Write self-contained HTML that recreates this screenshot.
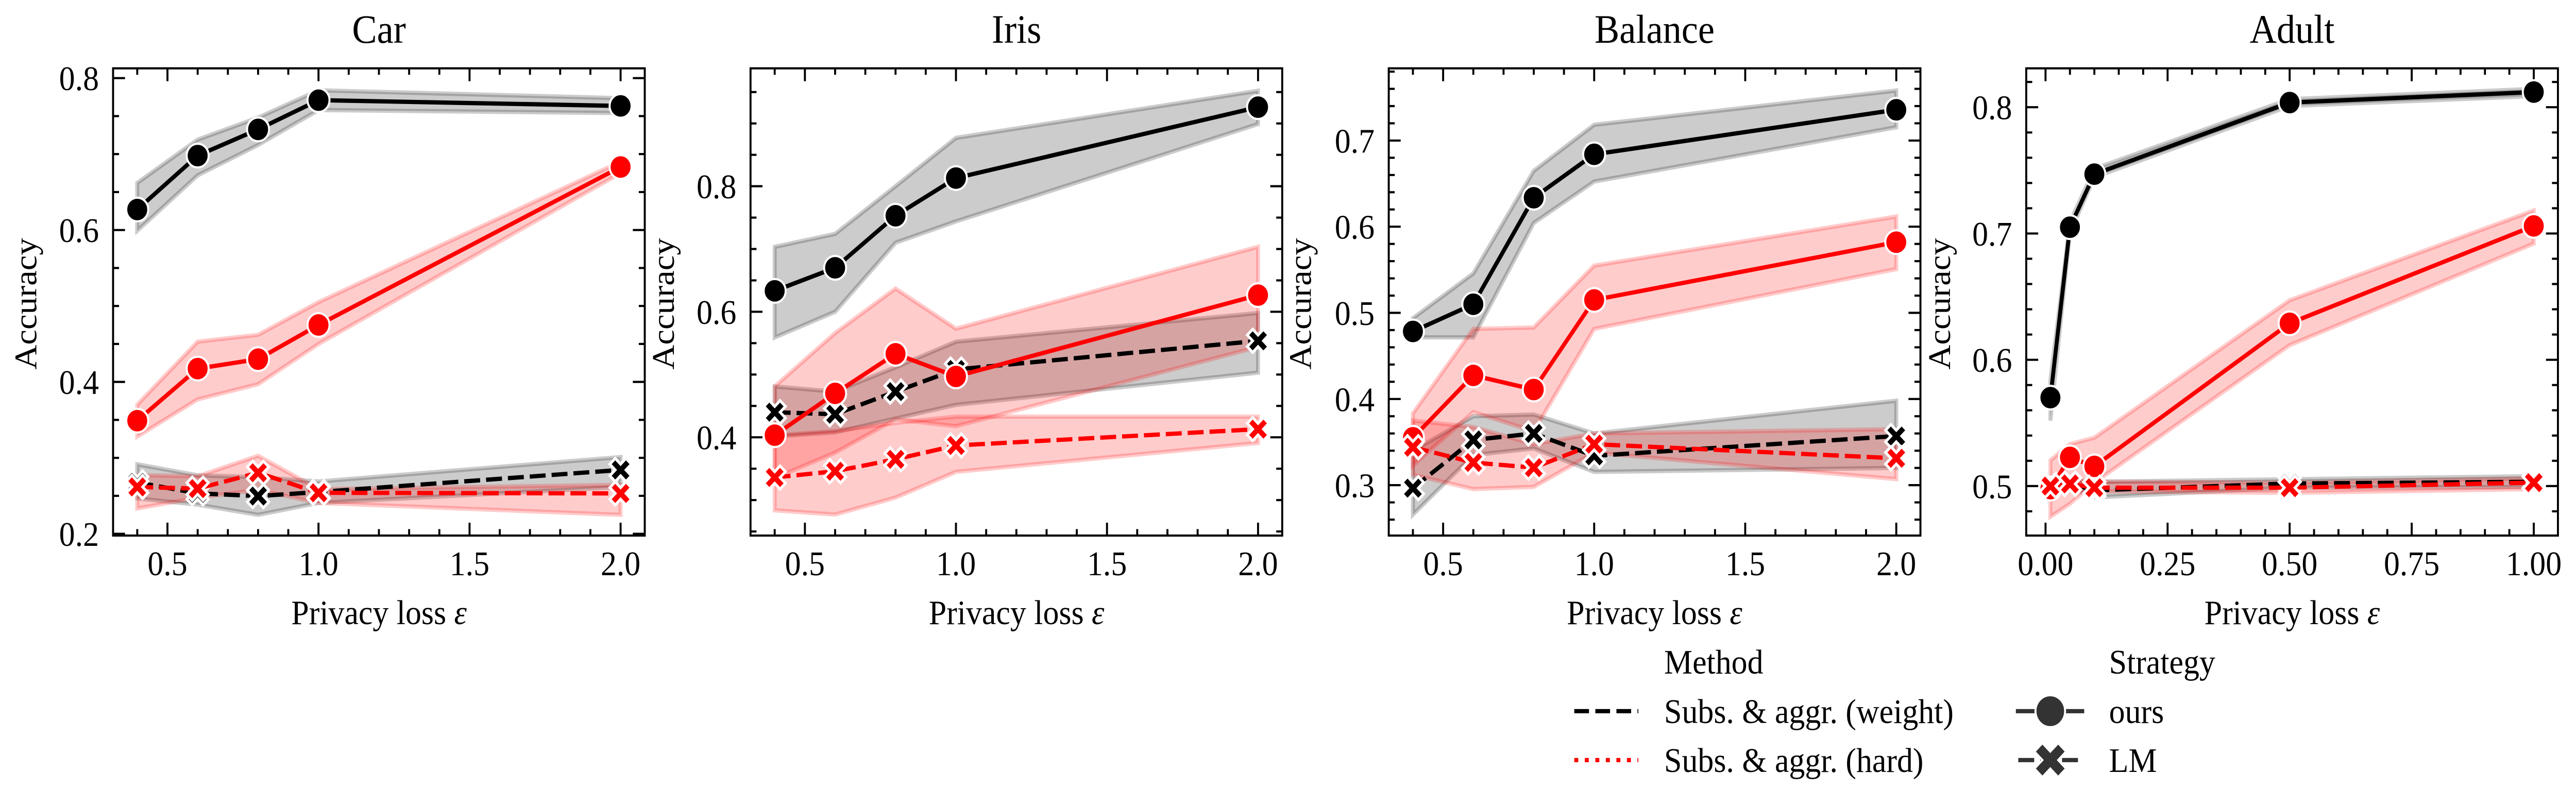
<!DOCTYPE html>
<html lang="en">
<head>
<meta charset="utf-8">
<title>Accuracy vs privacy loss</title>
<style>
html,body{margin:0;padding:0;background:#fff;width:100%;height:100%;overflow:hidden;}
svg{display:block;width:100vw;height:100vh;}
text{font-family:"Liberation Serif","DejaVu Serif",serif;fill:#000;}
</style>
</head>
<body>
<svg id="chart" xmlns="http://www.w3.org/2000/svg" viewBox="0 0 5390 1571" preserveAspectRatio="none">
<rect x="0" y="0" width="5390" height="1571" fill="#fff"/>
<g id="panels"></g>

<text x="793" y="83" font-size="78" text-anchor="middle">Car</text>
<text x="2127" y="83" font-size="78" text-anchor="middle">Iris</text>
<text x="3462" y="83" font-size="78" text-anchor="middle">Balance</text>
<text x="4796" y="83" font-size="78" text-anchor="middle">Adult</text>

<text x="793" y="1212" font-size="66.7" text-anchor="middle">Privacy loss <tspan font-style="italic">ε</tspan></text>
<text x="2127" y="1212" font-size="66.7" text-anchor="middle">Privacy loss <tspan font-style="italic">ε</tspan></text>
<text x="3462" y="1212" font-size="66.7" text-anchor="middle">Privacy loss <tspan font-style="italic">ε</tspan></text>
<text x="4796" y="1212" font-size="66.7" text-anchor="middle">Privacy loss <tspan font-style="italic">ε</tspan></text>

<text font-size="66.7" text-anchor="middle" transform="translate(76 590) rotate(-90)">Accuracy</text>
<text font-size="66.7" text-anchor="middle" transform="translate(1410 590) rotate(-90)">Accuracy</text>
<text font-size="66.7" text-anchor="middle" transform="translate(2743 590) rotate(-90)">Accuracy</text>
<text font-size="66.7" text-anchor="middle" transform="translate(4080 590) rotate(-90)">Accuracy</text>

<g>
  <text x="3482" y="1308" font-size="66.7">Method</text>
  <g>
    <line x1="3294" y1="1381" x2="3428" y2="1381" stroke="#000" stroke-width="8.33" stroke-dasharray="30.8 13.3"/>
    <text x="3482" y="1404" font-size="66.7">Subs. &amp; aggr. (weight)</text>
  </g>
  <g>
    <line x1="3294" y1="1476" x2="3428" y2="1476" stroke="#f00" stroke-width="8.33" stroke-dasharray="8.33 13.7"/>
    <text x="3482" y="1499" font-size="66.7">Subs. &amp; aggr. (hard)</text>
  </g>
  <text x="4413" y="1308" font-size="66.7">Strategy</text>
  <g>
    <line x1="4218" y1="1381" x2="4361" y2="1381" stroke="#333" stroke-width="8.33"/>
    <circle cx="4290" cy="1381" r="31" fill="#333" stroke="#fff" stroke-width="4.17"/>
    <text x="4413" y="1404" font-size="66.7">ours</text>
  </g>
  <g>
    <line x1="4223" y1="1476" x2="4348" y2="1476" stroke="#333" stroke-width="8.33" stroke-dasharray="33.3 12.5"/>
    <polygon fill="#333" stroke="#fff" stroke-width="4.17" stroke-linejoin="miter" points="4273.5,1443 4290,1459.5 4306.5,1443 4323,1459.5 4306.5,1476 4323,1492.5 4306.5,1509 4290,1492.5 4273.5,1509 4257,1492.5 4273.5,1476 4257,1459.5"/>
    <text x="4413" y="1499" font-size="66.7">LM</text>
  </g>
</g>
</svg>
<script>
/* ---------- data: Car ---------- */
const carEpsilon = [0.4, 0.6, 0.8, 1.0, 2.0];
const carOursWeight = [0.627, 0.698, 0.7325, 0.771, 0.7634];
const carOursWeightLow = [0.599, 0.672, 0.712, 0.758, 0.754];
const carOursWeightHigh = [0.662, 0.719, 0.748, 0.784, 0.7736];
const carLmWeight = [0.2676, 0.2533, 0.2497, 0.255, 0.2841];
const carLmWeightLow = [0.2466, 0.2384, 0.225, 0.2407, 0.2616];
const carLmWeightHigh = [0.2915, 0.277, 0.2746, 0.2689, 0.301];
const carOursHard = [0.349, 0.4175, 0.43, 0.475, 0.683];
const carOursHardLow = [0.328, 0.377, 0.397, 0.45, 0.675];
const carOursHardHigh = [0.37, 0.453, 0.462, 0.505, 0.69];
const carLmHard = [0.2617, 0.2595, 0.2804, 0.254, 0.2532];
const carLmHardLow = [0.2335, 0.2475, 0.258, 0.2407, 0.225];
const carLmHardHigh = [0.2773, 0.2757, 0.3027, 0.2588, 0.2644];
const carXTickLabels = ["0.5", "1.0", "1.5", "2.0"];
const carYTickLabels = ["0.2", "0.4", "0.6", "0.8"];

/* ---------- data: Iris ---------- */
const irisEpsilon = [0.4, 0.6, 0.8, 1.0, 2.0];
const irisOursWeight = [0.6333, 0.67, 0.753, 0.813, 0.926];
const irisOursWeightLow = [0.559, 0.6, 0.71, 0.744, 0.899];
const irisOursWeightHigh = [0.7034, 0.724, 0.8, 0.877, 0.952];
const irisLmWeight = [0.44, 0.4367, 0.4728, 0.508, 0.5537];
const irisLmWeightLow = [0.4014, 0.408, 0.43, 0.4517, 0.503];
const irisLmWeightHigh = [0.481, 0.4728, 0.5116, 0.5524, 0.598];
const irisOursHard = [0.4034, 0.47, 0.533, 0.497, 0.6265];
const irisOursHardLow = [0.335, 0.3755, 0.4286, 0.4177, 0.544];
const irisOursHardHigh = [0.481, 0.566, 0.637, 0.573, 0.7034];
const irisLmHard = [0.336, 0.346, 0.365, 0.387, 0.413];
const irisLmHardLow = [0.2837, 0.277, 0.304, 0.345, 0.391];
const irisLmHardHigh = [0.403, 0.41, 0.423, 0.433, 0.433];
const irisXTickLabels = ["0.5", "1.0", "1.5", "2.0"];
const irisYTickLabels = ["0.4", "0.6", "0.8"];

/* ---------- data: Balance ---------- */
const balanceEpsilon = [0.4, 0.6, 0.8, 1.0, 2.0];
const balanceOursWeight = [0.4784, 0.51, 0.6336, 0.684, 0.7357];
const balanceOursWeightLow = [0.4715, 0.4715, 0.6043, 0.6524, 0.7154];
const balanceOursWeightHigh = [0.4938, 0.5458, 0.6648, 0.7183, 0.758];
const balanceLmWeight = [0.2965, 0.3525, 0.36, 0.334, 0.357];
const balanceLmWeightLow = [0.2658, 0.335, 0.3426, 0.3154, 0.32];
const balanceLmWeightHigh = [0.34, 0.38, 0.382, 0.36, 0.398];
const balanceOursHard = [0.355, 0.4274, 0.411, 0.515, 0.582];
const balanceOursHardLow = [0.3228, 0.3848, 0.3625, 0.4814, 0.5508];
const balanceOursHardHigh = [0.3833, 0.4814, 0.483, 0.5548, 0.6118];
const balanceLmHard = [0.344, 0.3263, 0.3203, 0.3476, 0.3312];
const balanceLmHardLow = [0.312, 0.2955, 0.298, 0.3377, 0.307];
const balanceLmHardHigh = [0.375, 0.3674, 0.3476, 0.36, 0.365];
const balanceXTickLabels = ["0.5", "1.0", "1.5", "2.0"];
const balanceYTickLabels = ["0.3", "0.4", "0.5", "0.6", "0.7"];

/* ---------- data: Adult ---------- */
const adultEpsilon = [0.01, 0.05, 0.1, 0.5, 1.0];
const adultOursWeight = [0.57, 0.705, 0.747, 0.8037, 0.812];
const adultOursWeightLow = [0.5518, 0.7006, 0.7445, 0.801, 0.8088];
const adultOursWeightHigh = [0.584, 0.709, 0.7513, 0.8064, 0.8145];
const adultLmWeight = [0.501, 0.502, 0.4966, 0.502, 0.5034];
const adultLmWeightLow = [0.499, 0.499, 0.491, 0.4987, 0.4993];
const adultLmWeightHigh = [0.503, 0.505, 0.5034, 0.5054, 0.5078];
const adultOursHard = [0.498, 0.5227, 0.5156, 0.6289, 0.706];
const adultOursHardLow = [0.4757, 0.486, 0.5027, 0.6116, 0.692];
const adultOursHardHigh = [0.5203, 0.5332, 0.5383, 0.6471, 0.7182];
const adultLmHard = [0.5, 0.5017, 0.4987, 0.4987, 0.5027];
const adultLmHardLow = [0.498, 0.499, 0.4959, 0.4946, 0.4976];
const adultLmHardHigh = [0.502, 0.504, 0.5034, 0.5027, 0.506];
const adultXTickLabels = ["0.00", "0.25", "0.50", "0.75", "1.00"];
const adultYTickLabels = ["0.5", "0.6", "0.7", "0.8"];

/* ---------- layout ---------- */
const AX_TOP = 132.7, AX_BOTTOM = 1040, AX_WIDTH = 1112.5;
const BLACK = "#000000", RED = "#ff0000";

const panels = [
  { left: 236.6, xlim: [0.32, 2.08], ylim: [0.1977, 0.8129], xMinorStep: 0.1, yMinorStep: 0.05,
    eps: carEpsilon, xLabels: carXTickLabels, yLabels: carYTickLabels,
    series: [
      [carOursWeight, carOursWeightLow, carOursWeightHigh, BLACK, false],
      [carLmWeight, carLmWeightLow, carLmWeightHigh, BLACK, true],
      [carOursHard, carOursHardLow, carOursHardHigh, RED, false],
      [carLmHard, carLmHardLow, carLmHardHigh, RED, true]
    ] },
  { left: 1570.4, xlim: [0.32, 2.08], ylim: [0.2435, 0.9878], xMinorStep: 0.1, yMinorStep: 0.05,
    eps: irisEpsilon, xLabels: irisXTickLabels, yLabels: irisYTickLabels,
    series: [
      [irisOursWeight, irisOursWeightLow, irisOursWeightHigh, BLACK, false],
      [irisLmWeight, irisLmWeightLow, irisLmWeightHigh, BLACK, true],
      [irisOursHard, irisOursHardLow, irisOursHardHigh, RED, false],
      [irisLmHard, irisLmHardLow, irisLmHardHigh, RED, true]
    ] },
  { left: 2905.8, xlim: [0.32, 2.08], ylim: [0.2415, 0.7838], xMinorStep: 0.1, yMinorStep: 0.02,
    eps: balanceEpsilon, xLabels: balanceXTickLabels, yLabels: balanceYTickLabels,
    series: [
      [balanceOursWeight, balanceOursWeightLow, balanceOursWeightHigh, BLACK, false],
      [balanceLmWeight, balanceLmWeightLow, balanceLmWeightHigh, BLACK, true],
      [balanceOursHard, balanceOursHardLow, balanceOursHardHigh, RED, false],
      [balanceLmHard, balanceLmHardLow, balanceLmHardHigh, RED, true]
    ] },
  { left: 4239.7, xlim: [-0.0395, 1.0495], ylim: [0.4608, 0.8308], xMinorStep: 0.05, yMinorStep: 0.02,
    eps: adultEpsilon, xLabels: adultXTickLabels, yLabels: adultYTickLabels,
    series: [
      [adultOursWeight, adultOursWeightLow, adultOursWeightHigh, BLACK, false],
      [adultLmWeight, adultLmWeightLow, adultLmWeightHigh, BLACK, true],
      [adultOursHard, adultOursHardLow, adultOursHardHigh, RED, false],
      [adultLmHard, adultLmHardLow, adultLmHardHigh, RED, true]
    ] }
];

const NS = "http://www.w3.org/2000/svg";
const SPINE = 4.17, MAJOR = 25, MINOR = 12.5, LW = 8.33;
const CIRCLE_R = 23, CIRCLE_EDGE = 4.17, X_SIZE = 45, X_EDGE = 5.5;
const root = document.getElementById("panels");

function make(tag, parent, attrs) {
  const el = document.createElementNS(NS, tag);
  for (const k in attrs) el.setAttribute(k, attrs[k]);
  parent.appendChild(el);
  return el;
}

function ticksBetween(lo, hi, step) {
  const out = [];
  const start = Math.ceil(lo / step - 1e-6);
  const end = Math.floor(hi / step + 1e-6);
  for (let i = start; i <= end; i++) out.push(+(i * step).toFixed(6));
  return out;
}

function xMarkerPoints(cx, cy, ms) {
  const u = ms / 4;
  const shape = [[-1,-2],[0,-1],[1,-2],[2,-1],[1,0],[2,1],[1,2],[0,1],[-1,2],[-2,1],[-1,0],[-2,-1]];
  return shape.map(function (p) { return (cx + p[0] * u).toFixed(2) + "," + (cy + p[1] * u).toFixed(2); }).join(" ");
}

panels.forEach(function (panel) {
  const g = make("g", root, {});
  
  

  const left = panel.left, right = left + AX_WIDTH;
  const xScale = function (v) { return left + (v - panel.xlim[0]) / (panel.xlim[1] - panel.xlim[0]) * AX_WIDTH; };
  const yScale = function (v) { return AX_BOTTOM - (v - panel.ylim[0]) / (panel.ylim[1] - panel.ylim[0]) * (AX_BOTTOM - AX_TOP); };

  /* confidence bands sit under everything else */
  panel.series.forEach(function (s) {
    const top = panel.eps.map(function (e, i) { return xScale(e).toFixed(2) + "," + yScale(s[2][i]).toFixed(2); });
    const bottom = panel.eps.map(function (e, i) { return xScale(e).toFixed(2) + "," + yScale(s[1][i]).toFixed(2); }).reverse();
    const band = make("polygon", g, { points: top.concat(bottom).join(" "), fill: s[3], "fill-opacity": 0.2, stroke: s[3], "stroke-opacity": 0.2, "stroke-width": LW, "stroke-linejoin": "miter" });
    
    
  });

  /* ticks on all four sides */
  const xMajor = panel.xLabels.map(Number);
  const yMajor = panel.yLabels.map(Number);
  ticksBetween(panel.xlim[0], panel.xlim[1], panel.xMinorStep).forEach(function (v) {
    if (xMajor.some(function (m) { return Math.abs(m - v) < 1e-6; })) return;
    const px = xScale(v);
    const b = make("line", g, { x1: px, x2: px, y1: AX_BOTTOM, y2: AX_BOTTOM - MINOR, stroke: "#000", "stroke-width": SPINE });
    
    
    const t = make("line", g, { x1: px, x2: px, y1: AX_TOP, y2: AX_TOP + MINOR, stroke: "#000", "stroke-width": SPINE });
    
    
  });
  ticksBetween(panel.ylim[0], panel.ylim[1], panel.yMinorStep).forEach(function (v) {
    if (yMajor.some(function (m) { return Math.abs(m - v) < 1e-6; })) return;
    const py = yScale(v);
    const l = make("line", g, { x1: left, x2: left + MINOR, y1: py, y2: py, stroke: "#000", "stroke-width": SPINE });
    
    
    const r = make("line", g, { x1: right, x2: right - MINOR, y1: py, y2: py, stroke: "#000", "stroke-width": SPINE });
    
    
  });
  panel.xLabels.forEach(function (label) {
    const px = xScale(Number(label));
    const b = make("line", g, { x1: px, x2: px, y1: AX_BOTTOM, y2: AX_BOTTOM - MAJOR, stroke: "#000", "stroke-width": SPINE });
    
    
    const t = make("line", g, { x1: px, x2: px, y1: AX_TOP, y2: AX_TOP + MAJOR, stroke: "#000", "stroke-width": SPINE });
    
    
    const txt = make("text", g, { x: px, y: 1117, "font-size": 66.7, "text-anchor": "middle" });
    txt.textContent = label;
    
    
  });
  panel.yLabels.forEach(function (label) {
    const py = yScale(Number(label));
    const l = make("line", g, { x1: left, x2: left + MAJOR, y1: py, y2: py, stroke: "#000", "stroke-width": SPINE });
    
    
    const r = make("line", g, { x1: right, x2: right - MAJOR, y1: py, y2: py, stroke: "#000", "stroke-width": SPINE });
    
    
    const txt = make("text", g, { x: left - 29.6, y: py + 23.5, "font-size": 66.7, "text-anchor": "end" });
    txt.textContent = label;
    
    
  });

  /* lines with markers, drawn in seaborn order */
  panel.series.forEach(function (s) {
    const isLm = s[4];
    const path = panel.eps.map(function (e, i) { return xScale(e).toFixed(2) + "," + yScale(s[0][i]).toFixed(2); }).join(" ");
    const line = make("polyline", g, { points: path, fill: "none", stroke: s[3], "stroke-width": LW, "stroke-linejoin": "round" });
    if (isLm) line.setAttribute("stroke-dasharray", "33.3 12.5");
    
    
    panel.eps.forEach(function (e, i) {
      const cx = xScale(e), cy = yScale(s[0][i]);
      let mark;
      if (isLm) {
        mark = make("polygon", g, { points: xMarkerPoints(cx, cy, X_SIZE), fill: s[3], stroke: "#fff", "stroke-width": X_EDGE, "stroke-linejoin": "miter" });
      } else {
        mark = make("circle", g, { cx: cx, cy: cy, r: CIRCLE_R, fill: s[3], stroke: "#fff", "stroke-width": CIRCLE_EDGE });
      }
      
      
    });
  });

  const frame = make("rect", g, { x: left, y: AX_TOP, width: AX_WIDTH, height: AX_BOTTOM - AX_TOP, fill: "none", stroke: "#000", "stroke-width": SPINE });
  
  
});
</script>
</body>
</html>
